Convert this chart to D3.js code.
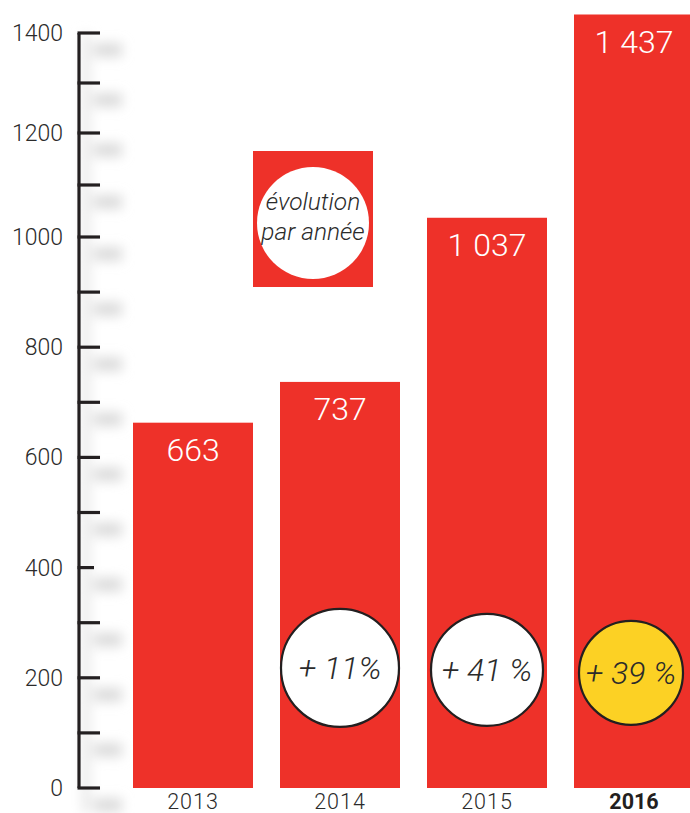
<!DOCTYPE html>
<html><head><meta charset="utf-8">
<script src="https://cdn.jsdelivr.net/npm/d3@7"></script>
<style>
html,body{margin:0;padding:0;background:#fff;}
svg{display:block;font-family:Roboto, "Open Sans", sans-serif;}
</style></head>
<body>
<svg id="chart" width="690" height="813"></svg>
<script>
const years = ["2013", "2014", "2015", "2016"];
const values = [663, 737, 1037, 1437];
const valueLabels = ["663", "737", "1 037", "1 437"];
const growthLabels = ["", "+ 11%", "+ 41 %", "+ 39 %"];
const yTicks = [0, 200, 400, 600, 800, 1000, 1200, 1400];
const yMinorTicks = [100, 300, 500, 700, 900, 1100, 1300];
const legendLines = ["évolution", "par année"];

const RED = "#ee3129", YELLOW = "#fcd124", INK = "#2b2b2b";
const svg = d3.select("#chart");

// the printed axis is slightly compressed above 1000
const y = d3.scaleLinear().domain([0, 1000, 1200, 1400]).range([788, 237, 133, 33]);
const x = d3.scaleBand().domain(years).range([133, 694]).paddingInner(27/147).paddingOuter(0);

const defs = svg.append("defs");
defs.append("filter").attr("id","blur").attr("x","-50%").attr("y","-100%").attr("width","200%").attr("height","300%")
  .append("feGaussianBlur").attr("stdDeviation", 6);

// soft shadows of the axis
const shadowG = svg.append("g").attr("filter","url(#blur)");
shadowG.append("rect").attr("x", 82).attr("y", y(1400)).attr("width", 8).attr("height", y(0)-y(1400)+25).attr("fill","#e8e8e8");
shadowG.selectAll("rect.s").data(yTicks.concat(yMinorTicks)).join("rect").attr("class","s")
  .attr("x", 94).attr("y", d => y(d) + 10).attr("width", 28).attr("height", 14).attr("fill", "#dcdcdc");

// bars
svg.append("g").selectAll("rect").data(values).join("rect")
  .attr("x", (d,i) => x(years[i])).attr("width", x.bandwidth())
  .attr("y", d => y(d)).attr("height", d => y(0) - y(d))
  .attr("fill", RED);

// value labels
svg.append("g").selectAll("text").data(values).join("text")
  .attr("x", (d,i) => x(years[i]) + x.bandwidth()/2)
  .attr("y", d => y(d) + 38)
  .attr("text-anchor","middle").attr("fill","#fff")
  .attr("font-size", 32).attr("font-weight", 300)
  .text((d,i) => valueLabels[i]);

// growth circles
const radii = [0, 59, 56, 52];
const cg = svg.append("g").selectAll("g").data(growthLabels.map((g,i)=>({g,i})).filter(d=>d.g)).join("g")
  .attr("transform", d => `translate(${x(years[d.i]) + x.bandwidth()/2 + (d.i===3?-3:0)},${y(218) + (d.i===3?5:(d.i===2?2:0))})`);
cg.append("circle").attr("r", d => radii[d.i])
  .attr("fill", d => d.i === 3 ? YELLOW : "#fff").attr("stroke", "#231f20").attr("stroke-width", 2.2);
cg.append("text").attr("text-anchor","middle").attr("y", 11)
  .attr("font-size", 32).attr("font-style","italic").attr("font-weight", 300).attr("fill", INK)
  .text(d => d.g);

// legend
const lg = svg.append("g");
lg.append("rect").attr("x", 253).attr("y", 151).attr("width", 120).attr("height", 136).attr("fill", RED);
lg.append("circle").attr("cx", 313).attr("cy", 223).attr("r", 56).attr("fill", "#fff");
lg.selectAll("text").data(legendLines).join("text")
  .attr("x", 313).attr("y", (d,i) => 210 + i*30)
  .attr("text-anchor","middle").attr("font-size", 24.5).attr("font-style","italic").attr("font-weight",300)
  .attr("fill", INK).text(d => d);

// y axis
const axisG = svg.append("g").attr("transform","translate(79,0)");
axisG.append("line").attr("x1",0).attr("x2",0).attr("y1", y(1400)).attr("y2", y(0)).attr("stroke","#231f20").attr("stroke-width",3.2);
axisG.selectAll("line.t").data(yTicks.concat(yMinorTicks)).join("line").attr("class","t")
  .attr("x1", -1.5).attr("x2", d => d === 400 ? 15 : 21)
  .attr("y1", d => y(d)).attr("y2", d => y(d))
  .attr("stroke","#231f20").attr("stroke-width",3.2);
axisG.selectAll("text").data(yTicks).join("text")
  .attr("x", -16).attr("y", d => y(d)).attr("dy","0.35em")
  .attr("text-anchor","end").attr("font-size", 23).attr("font-weight",300).attr("fill", INK)
  .text(d => d);

// x labels
svg.append("g").selectAll("text").data(years).join("text")
  .attr("x", d => x(d) + x.bandwidth()/2).attr("y", 809)
  .attr("text-anchor","middle").attr("font-size", 21.5).attr("letter-spacing", d => d === "2016" ? 0 : 1)
  .attr("font-weight", d => d === "2016" ? 700 : 300)
  .attr("fill", d => d === "2016" ? "#231f20" : INK)
  .text(d => d);
</script>
</body></html>
